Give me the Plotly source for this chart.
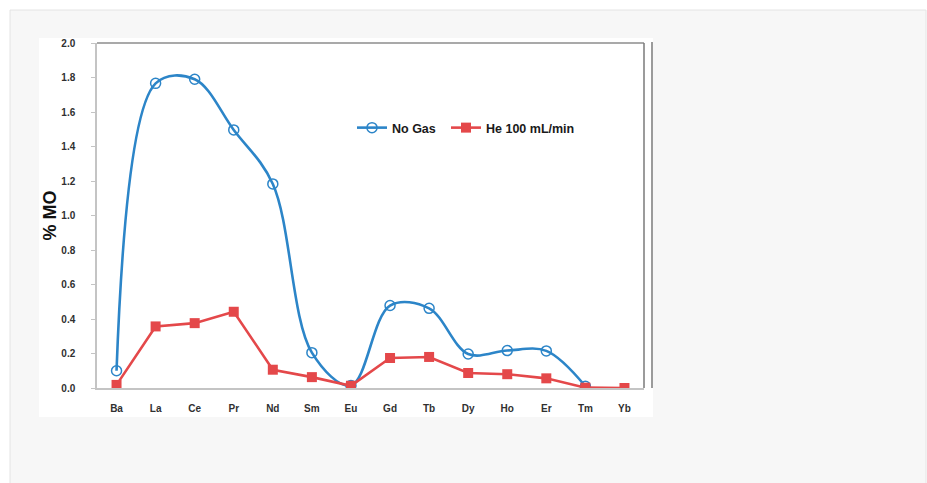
import plotly.graph_objects as go

elements = ["Ba", "La", "Ce", "Pr", "Nd", "Sm", "Eu", "Gd", "Tb", "Dy", "Ho", "Er", "Tm", "Yb"]
no_gas = [0.10, 1.766, 1.79, 1.496, 1.183, 0.205, 0.015, 0.478, 0.462, 0.197, 0.217, 0.215, 0.01, None]
he_100 = [0.018, 0.357, 0.376, 0.442, 0.106, 0.063, 0.013, 0.174, 0.18, 0.087, 0.08, 0.056, 0.002, 0.0]
y_ticks = [0.0, 0.2, 0.4, 0.6, 0.8, 1.0, 1.2, 1.4, 1.6, 1.8, 2.0]

W, H = 927, 483
L, R, T, B = 97, 644, 43, 388


def px_x(p):
    return (p - L) / (R - L)


def px_y(p):
    return (B - p) / (B - T)


BLUE = "#2c85c8"
RED = "#e4484a"
FONT = "Liberation Sans, Arial, sans-serif"

fig = go.Figure()
fig.add_trace(go.Scatter(
    x=elements, y=no_gas, name="No Gas", mode="lines+markers", legend="legend",
    line=dict(color=BLUE, width=2.6, shape="spline", smoothing=1.0),
    marker=dict(symbol="circle-open", size=10, color=BLUE, line=dict(width=1.5, color=BLUE)),
))
fig.add_trace(go.Scatter(
    x=elements, y=he_100, name="He 100 mL/min", mode="lines+markers", legend="legend2",
    line=dict(color=RED, width=2.6),
    marker=dict(symbol="square", size=10, color=RED),
))

shapes = [
    dict(type="rect", xref="paper", yref="paper", layer="below",
         x0=px_x(10), x1=px_x(926), y0=px_y(10), y1=px_y(490),
         fillcolor="#f7f7f7", line=dict(color="#e4e4e4", width=1)),
    dict(type="rect", xref="paper", yref="paper", layer="below",
         x0=px_x(39), x1=px_x(653), y0=px_y(38), y1=px_y(417),
         fillcolor="#ffffff", line=dict(width=0)),
    dict(type="line", xref="paper", yref="paper",
         x0=0, x1=1, y0=1, y1=1, line=dict(color="#8c8c8c", width=1.5)),
    dict(type="line", xref="paper", yref="paper",
         x0=1, x1=1, y0=0, y1=1, line=dict(color="#7a7a7a", width=1.5)),
    dict(type="line", xref="paper", yref="paper",
         x0=px_x(652), x1=px_x(652), y0=px_y(388), y1=px_y(42), line=dict(color="#7a7a7a", width=1.5)),
]

legend_font = dict(size=12.5, family=FONT, color="#1a1a1a", weight="bold")

fig.update_layout(
    width=W, height=H,
    margin=dict(l=L, r=W - R, t=T, b=H - B),
    paper_bgcolor="#ffffff",
    plot_bgcolor="#ffffff",
    shapes=shapes,
    font=dict(family=FONT, color="#303030"),
    showlegend=True,
    legend=dict(x=px_x(352), y=px_y(128), xanchor="left", yanchor="middle",
                bgcolor="rgba(0,0,0,0)", font=legend_font, itemwidth=30),
    legend2=dict(x=px_x(446), y=px_y(128), xanchor="left", yanchor="middle",
                 bgcolor="rgba(0,0,0,0)", font=legend_font, itemwidth=30),
    xaxis=dict(
        type="category", range=[-0.5, 13.5], showgrid=False, zeroline=False,
        showline=True, linecolor="#c4c4c4", linewidth=1.5, ticks="",
        tickfont=dict(size=10, family=FONT, color="#303030", weight="bold"),
        ticklabelstandoff=10,
    ),
    yaxis=dict(
        range=[0, 2.0], tickvals=y_ticks, ticktext=[f"{v:.1f}" for v in y_ticks],
        showgrid=False, zeroline=False, showline=True, linecolor="#c4c4c4", linewidth=1.5,
        ticks="outside", ticklen=4, tickcolor="#c4c4c4",
        tickfont=dict(size=10, family=FONT, color="#303030", weight="bold"),
        ticklabelstandoff=14,
        title=dict(text="% MO", font=dict(size=18, family=FONT, color="#111111", weight="bold"), standoff=0),
    ),
)

fig.write_html("out.html", config={"displayModeBar": False},
               post_script="document.body.style.margin='0';document.body.style.padding='0';")
